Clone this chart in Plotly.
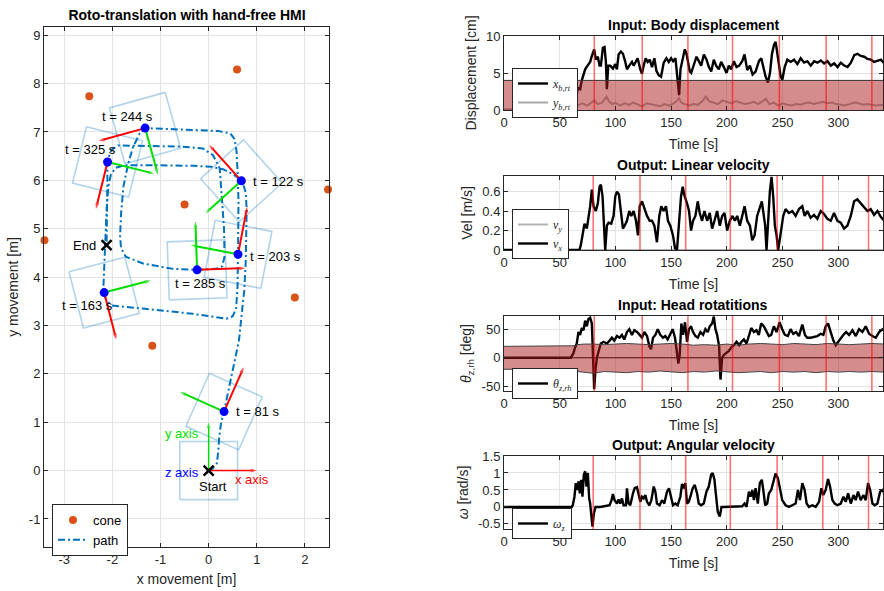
import math
import plotly.graph_objects as go

FONT = "Liberation Sans, Arial, Helvetica, sans-serif"
SERIF = "Liberation Serif, Times New Roman, serif"
TXT = "#262626"
W, H = 884, 591

# ================= DATA: left panel (trajectory) =================
cone_x = [-2.48, 0.59, -0.50, 2.48, -3.41, 1.79, -1.17]
cone_y = [7.74, 8.29, 5.50, 5.81, 4.76, 3.58, 2.58]

path_x = [0.0, 0.08, 0.17, 0.20, 0.22, 0.26, 0.32, 0.43, 0.54, 0.63, 0.68, 0.74, 0.77, 0.78, 0.79, 0.77, 0.69,
          0.50, 0.30, 0.05, -0.30, -1.00, -1.75, -1.93, -2.03, -2.08, -2.12, -2.14, -2.16, -2.19,
          -2.12, -2.00, -1.36, -0.33, 0.37, 0.50, 0.57, 0.60, 0.61,
          0.62, 0.62, 0.60, 0.58, 0.54, 0.45, 0.20, -0.50, -1.00, -1.32,
          -1.43, -1.57, -1.67, -1.77, -1.82, -1.84, -1.82, -1.72, -1.36, -0.74, -0.24,
          0.15, 0.28, 0.33, 0.32, 0.28, 0.26, 0.23, 0.09, -0.12, -0.60, -1.40, -1.88, -2.01, -2.07, -2.10,
          -2.11, -2.12, -2.12]
path_y = [0.0, 0.04, 0.15, 0.40, 0.70, 1.00, 1.22, 1.72, 2.21, 2.69, 3.17, 3.73, 4.30, 4.90, 5.40, 5.75, 6.00,
          6.13, 6.23, 6.28, 6.30, 6.31, 6.31, 6.26, 6.12, 5.90, 5.40, 4.90, 4.30, 3.69,
          3.50, 3.41, 3.35, 3.24, 3.14, 3.19, 3.35, 3.80, 4.47,
          5.00, 5.60, 6.20, 6.60, 6.85, 6.97, 7.02, 7.05, 7.06, 7.08,
          6.97, 6.69, 6.35, 5.87, 5.30, 4.85, 4.60, 4.42, 4.28, 4.17, 4.15,
          4.17, 4.22, 4.42, 5.00, 5.50, 5.90, 6.25, 6.52, 6.66, 6.70, 6.71, 6.72, 6.64, 6.50, 6.38,
          5.90, 5.30, 4.66]

pose_t = [81, 122, 163, 203, 244, 285, 325]
pose_x = [0.32, 0.68, -2.17, 0.61, -1.32, -0.24, -2.10]
pose_y = [1.22, 5.99, 3.68, 4.47, 7.08, 4.15, 6.38]
pose_heading_deg = [66, 132, 284.5, 79, 195.5, 2, 256]

start_xy = (0.0, 0.0)
end_xy = (-2.12, 4.66)

# ================= DATA: right panels (time series) =================
t_end = 340
disp_threshold = 4.0
input_marks = [81, 124, 165, 205, 247, 289, 330]
output_marks = [80, 122, 163, 203, 245, 286, 327]

disp_t = [0, 60, 62.4, 64.7, 66.2, 68.3, 69.8, 72.8, 74.9, 77.3, 78.8, 80.9, 82.4, 84.2, 85.7, 86.9, 88.7,
          90.2, 91.4, 92.3, 93.5, 95.3, 97.7, 99.8, 101.3, 102.8, 104.9, 106.7, 108.8, 110.3, 112.4, 114.8,
          116.3, 118.4, 119.9, 122.3, 123.8, 125.3, 127.1, 128.9, 130.7, 132.8, 134.9, 136.7, 138.8, 140.9,
          143.3, 145.7, 147.8, 149.9, 151.7, 153.8, 155.9, 157.1, 158.3, 160.4, 162.2, 163.7, 165.2, 166.7,
          167.9, 170.3, 172.7, 174.8, 176.9, 179.3, 181.7, 183.8, 185.9, 188.2, 190.3, 192.7, 194.8, 197.2,
          199.6, 201.7, 203.8, 206.2, 208.6, 211.0, 213.7, 215.8, 218.2, 220.6, 223.0, 225.7, 228.7, 230.8,
          232.6, 234.7, 236.8, 238.6, 240.4, 242.2, 243.7, 245.2, 246.7, 248.2, 249.7, 251.8, 254.2, 257.2,
          260.2, 263.2, 266.2, 269.2, 272.2, 275.2, 278.2, 281.2, 284.2, 287.2, 290.2, 293.2, 296.2, 299.2,
          302.2, 305.2, 308.2, 311.2, 314.2, 317.1, 320.1, 323.1, 326.1, 329.1, 332.1, 335.1, 338.1, 341.1]
disp_xb = [0, 0, 0.4, 1.5, 3.0, 2.8, 4.0, 5.5, 6.0, 6.5, 7.3, 8.2, 6.8, 7.2, 6.0, 6.0, 8.4,
           8.5, 6.5, 2.8, 6.0, 6.0, 5.6, 6.2, 5.5, 7.5, 7.9, 7.6, 6.5, 5.5, 6.0, 6.5,
           6.0, 6.6, 7.0, 5.5, 4.9, 6.0, 7.0, 6.5, 6.8, 5.8, 7.0, 5.3, 4.7, 4.5,
           6.4, 7.0, 6.5, 7.0, 6.6, 7.0, 4.0, 2.0, 5.5, 7.0, 8.2, 7.6, 6.5, 5.2,
           5.0, 6.0, 7.2, 6.6, 6.0, 7.5, 6.8, 5.8, 5.2, 6.8, 6.0, 5.5, 6.5, 5.8,
           5.0, 6.0, 5.5, 6.6, 5.8, 6.0, 6.6, 7.5, 5.4, 6.0, 4.8, 5.2, 6.6, 7.0,
           5.8, 4.5, 3.7, 5.0, 7.6, 8.8, 9.2, 7.5, 6.0, 4.5, 4.1, 5.8, 6.8, 6.5,
           6.8, 6.2, 7.0, 6.4, 6.6, 6.0, 6.6, 6.4, 6.7, 6.3, 6.6, 6.0, 6.3, 5.8,
           6.4, 6.0, 5.8, 6.4, 7.4, 7.6, 7.3, 7.2, 6.9, 6.8, 6.5, 6.6, 6.8, 6.3]

disp_y_t = [0, 60, 62, 64, 66, 70, 75, 78, 81, 84, 88, 90, 92, 94, 97, 100, 104, 108, 112, 116, 120,
            124, 128, 132, 136, 140, 144, 148, 152, 155, 157, 159, 162, 166, 170, 174, 178, 181, 184,
            188, 192, 196, 200, 204, 208, 212, 216, 220, 224, 228, 232, 235, 238, 242, 246, 250, 254,
            258, 262, 266, 270, 274, 278, 282, 286, 290, 294, 298, 302, 306, 310, 314, 318, 322, 326,
            330, 334, 338, 341]
disp_yb = [0, 0, 0.3, 1.0, 0.6, 0.9, 0.6, 1.0, 1.3, 0.8, 1.0, 1.4, 1.8, 1.2, 0.8, 1.0, 0.6, 0.9, 0.7, 1.0, 0.8,
           0.5, 0.9, 0.8, 0.6, 0.5, 0.8, 0.6, 0.9, 1.2, 1.6, 1.0, 0.8, 0.6, 0.8, 0.7, 1.2, 1.8, 1.2,
           1.0, 0.8, 1.3, 1.1, 0.9, 1.2, 1.0, 0.8, 0.9, 1.1, 0.8, 1.2, 1.5, 0.8, 1.0, 0.6, 0.9, 0.7,
           0.6, 0.8, 0.7, 0.9, 1.0, 0.8, 1.0, 1.1, 0.9, 1.0, 0.8, 0.7, 0.6, 0.8, 1.0, 0.9, 0.7, 0.8,
           0.7, 0.6, 0.7, 0.6]

vel_t = [0, 67.7, 68.9, 70.7, 72.2, 74.3, 75.8, 77.3, 78.8, 80.3, 82.4, 84.2, 85.7, 86.9, 88.4, 89.6, 90.8,
         92.3, 93.8, 96.2, 98.3, 99.8, 101.3, 103.1, 104.9, 106.7, 108.2, 110.3, 112.4, 114.2, 116.3, 118.4,
         120.2, 121.7, 123.8, 125.9, 128.3, 130.7, 132.8, 134.9, 137.2, 139.3, 141.1, 143.2, 145.3, 147.1,
         149.2, 151.6, 153.4, 155.2, 157.0, 158.8, 160.3, 162.1, 164.2, 166.0, 167.8, 169.6, 171.7, 173.8,
         175.6, 177.7, 179.8, 182.2, 184.6, 186.7, 188.8, 191.2, 193.6, 195.7, 197.8, 200.2, 202.6, 205.0,
         207.1, 209.2, 211.6, 213.7, 215.8, 218.2, 220.6, 222.7, 224.8, 227.1, 229.5, 231.3, 232.5, 234.3,
         235.5, 236.7, 238.5, 240.0, 241.5, 243.0, 244.5, 246.0, 248.1, 250.5, 252.6, 255.6, 258.6, 261.6,
         264.6, 267.6, 269.7, 272.1, 275.1, 278.1, 281.1, 284.1, 287.1, 290.1, 293.1, 296.1, 299.1, 302.1,
         305.1, 308.1, 311.1, 314.1, 317.0, 320.0, 323.0, 326.0, 329.0, 332.0, 335.0, 338.0, 341.0]
vel_x = [0, 0, 0.05, 0.15, 0.27, 0.22, 0.32, 0.45, 0.62, 0.45, 0.40, 0.48, 0.65, 0.67, 0.55, 0.20, 0.0,
         0.25, 0.28, 0.27, 0.35, 0.55, 0.60, 0.57, 0.40, 0.22, 0.25, 0.30, 0.40, 0.35, 0.40, 0.30,
         0.15, 0.45, 0.50, 0.42, 0.35, 0.30, 0.30, 0.25, 0.08, 0.35, 0.45, 0.40, 0.45, 0.30,
         0.25, 0.15, 0.02, 0.0, 0.30, 0.55, 0.65, 0.55, 0.48, 0.40, 0.20, 0.30, 0.35, 0.50,
         0.38, 0.30, 0.40, 0.30, 0.38, 0.22, 0.30, 0.40, 0.25, 0.35, 0.38, 0.20, 0.30, 0.35,
         0.30, 0.35, 0.25, 0.35, 0.45, 0.30, 0.25, 0.10, 0.15, 0.35, 0.45, 0.50, 0.40, 0.25,
         0.0, 0.30, 0.60, 0.75, 0.55, 0.25, 0.15, 0.0, 0.15, 0.35, 0.42, 0.38, 0.40, 0.35,
         0.42, 0.45, 0.35, 0.40, 0.33, 0.36, 0.32, 0.40, 0.37, 0.32, 0.30, 0.38, 0.30, 0.28,
         0.22, 0.25, 0.35, 0.50, 0.52, 0.48, 0.45, 0.40, 0.42, 0.36, 0.40, 0.34, 0.30]
vel_y_t = [0, 100, 200, 300, 341]
vel_y = [0, 0, 0, 0, 0]

head_t = [0, 60, 60.8, 62.3, 63.8, 65.3, 66.8, 68.3, 69.8, 71.3, 72.8, 74.3, 75.8, 77.3, 78.8, 79.7, 80.9, 82.1,
          83.3, 85.4, 86.9, 89.3, 92.3, 94.7, 96.8, 98.9, 101.3, 103.7, 105.8, 107.9, 110.3, 112.4, 114.8,
          116.9, 119.3, 121.7, 123.8, 125.9, 128.3, 130.4, 131.9, 133.7, 135.8, 137.9, 140.2, 142.6, 144.7,
          146.8, 149.2, 151.3, 153.4, 155.2, 156.4, 157.6, 159.1, 160.6, 162.4, 164.2, 166.0, 167.8, 169.6,
          171.7, 173.8, 176.2, 178.6, 180.7, 182.8, 184.6, 186.7, 188.2, 189.7, 191.2, 193.0, 194.2, 195.7,
          197.2, 199.6, 201.7, 203.8, 206.2, 208.6, 211.0, 213.1, 215.2, 217.6, 219.7, 221.8, 224.2, 226.5,
          228.6, 230.7, 233.1, 235.5, 237.6, 239.7, 242.1, 244.5, 247.2, 249.6, 252.0, 254.7, 257.1, 259.5,
          262.0, 264.6, 267.6, 270.0, 272.1, 275.1, 278.1, 281.1, 284.1, 286.5, 288.6, 290.7, 293.1, 295.5,
          297.6, 299.7, 302.1, 304.5, 306.9, 309.6, 312.6, 315.6, 318.5, 321.5, 324.5, 327.5, 330.5, 333.5,
          336.5, 339.5, 341.0]
head_theta = [0, 0, 3, 8, 18, 25, 45, 40, 52, 48, 65, 55, 68, 70, 60, 10, -55, -20,
              0, 15, 25, 28, 25, 30, 35, 30, 38, 35, 40, 32, 45, 50, 40,
              48, 45, 40, 35, 45, 38, 20, 15, 35, 40, 50, 40, 35, 38,
              32, 42, 50, 35, 10, -10, 5, 60, 40, 62, 28, 50, 55, 45,
              38, 35, 45, 40, 50, 45, 55, 60, 72, 50, 40, 20, -38, 0,
              5, 8, 12, 18, 22, 28, 22, 28, 32, 25, 40, 52, 45, 48,
              40, 60, 55, 45, 38, 40, 55, 45, 62, 50, 40, 38, 50, 42,
              45, 38, 58, 40, 35, 35, 36, 38, 42, 40, 55, 60, 45, 30,
              22, 28, 35, 40, 45, 40, 48, 38, 50, 45, 55, 42, 38, 35,
              45, 50, 48]

band_t = [0, 60, 62, 66, 72, 80, 90, 100, 110, 120, 130, 140, 150, 160, 170, 180, 190, 200, 210, 220,
          230, 240, 250, 260, 270, 280, 290, 300, 310, 320, 330, 341]
band_hi = [20, 20, 21, 23, 24, 24, 23, 24, 25, 24, 23, 24, 25, 24, 22, 23, 22, 24, 22, 24,
           25, 24, 23, 25, 24, 23, 25, 24, 23, 24, 25, 24]
band_lo = [-20, -20, -21, -24, -25, -27, -24, -25, -26, -24, -25, -23, -24, -26, -24, -25, -23, -24, -26, -25,
           -24, -26, -24, -25, -24, -26, -24, -25, -24, -25, -24, -25]

ang_t = [0, 60.8, 61.7, 63.2, 64.4, 65.6, 66.8, 68.0, 69.2, 70.4, 71.6, 72.8, 74.0, 75.2, 76.4, 77.3, 78.5,
         79.4, 80.6, 82.1, 86.3, 90.8, 94.7, 96.5, 97.7, 99.2, 101.3, 102.8, 104.3, 105.8, 107.3, 109.4,
         110.3, 111.8, 113.3, 115.7, 117.2, 119.3, 120.8, 122.3, 123.8, 125.3, 126.8, 128.3, 130.4, 132.2,
         134.3, 135.8, 137.2, 139.6, 141.7, 143.8, 146.2, 148.0, 149.8, 151.6, 153.7, 155.8, 158.2, 159.7,
         161.2, 162.7, 164.2, 165.7, 167.2, 169.3, 171.1, 173.2, 174.7, 176.8, 179.2, 181.6, 183.7, 185.8,
         187.2, 188.8, 190.3, 191.8, 193.6, 195.1, 197.2, 203.2, 209.2, 213.7, 215.8, 217.6, 219.7, 221.2,
         222.7, 224.2, 225.7, 227.7, 229.5, 231.3, 232.8, 234.3, 236.1, 237.6, 239.7, 241.5, 243.6, 245.7,
         247.5, 249.6, 252.6, 255.6, 258.6, 261.6, 263.7, 265.5, 267.6, 269.7, 271.5, 273.6, 276.6, 279.6,
         282.6, 284.7, 286.5, 288.6, 290.7, 292.5, 294.6, 296.7, 299.1, 302.1, 304.5, 306.6, 308.7, 311.1,
         313.5, 315.5, 317.6, 320.0, 322.4, 324.5, 326.6, 328.5, 330.5, 332.6, 335.0, 337.4, 339.5, 341.1]
ang_w = [0, 0, 0.05, 0.3, 0.7, 0.5, 0.75, 0.4, 0.8, 0.3, 0.95, 1.05, 0.6, 1.0, 0.25, 0.1, -0.3,
         -0.58, -0.2, 0.0, 0.0, 0.02, 0.05, 0.2, 0.38, 0.2, 0.1, 0.22, 0.1, 0.25, 0.05, 0.05,
         0.55, 0.1, 0.05, 0.4, 0.55, 0.58, 0.35, 0.15, 0.3, 0.25, 0.35, 0.15, 0.05, 0.2,
         0.6, 0.45, 0.1, 0.05, 0.2, 0.1, 0.45, 0.55, 0.3, 0.05, 0.1, 0.05, 0.3, 0.68,
         0.55, 0.7, 0.1, 0.15, 0.3, 0.55, 0.65, 0.4, 0.1, 0.05, 0.1, 0.45, 0.6, 0.95,
         1.0, 0.8, 0.3, -0.15, -0.28, 0.0, 0.0, 0.0, 0.0, 0.02, 0.1, 0.0, 0.45, 0.3,
         0.5, 0.2, 0.55, 0.1, 0.7, 0.8, 0.45, 0.05, 0.1, 0.4, 0.5, 0.75, 0.98, 0.85,
         0.55, 0.2, 0.05, 0.0, 0.05, 0.1, 0.5, 0.2, 0.7, 0.5, 0.1, 0.0, 0.05, 0.0,
         0.15, 0.55, 0.35, 0.5, 0.82, 0.6, 0.2, 0.1, 0.05, 0.1, 0.3, 0.15, 0.4, 0.1,
         0.35, 0.2, 0.45, 0.2, 0.35, 0.2, 0.7, 0.5, 0.1, 0.05, 0.1, 0.45, 0.5, 0.4]

# ================= FIGURE =================
fig = go.Figure()

SQ_COL = "rgba(0,114,189,0.30)"
RED = "#ff0000"
GREEN = "#00dd00"


def square(cx, cy, ang_deg, side=1.2):
    a = math.radians(ang_deg)
    c, s = math.cos(a), math.sin(a)
    h = side / 2
    pts = [(-h, -h), (h, -h), (h, h), (-h, h), (-h, -h)]
    xs = [cx + px * c - py * s for px, py in pts]
    ys = [cy + px * s + py * c for px, py in pts]
    return xs, ys


def arrow(x0, y0, x1, y1, col, width, head):
    fig.add_trace(go.Scatter(
        x=[x0, x1], y=[y0, y1], mode="lines+markers", showlegend=False, hoverinfo="skip",
        line=dict(color=col, width=width),
        marker=dict(symbol="arrow", size=[0, head], color=col, angleref="previous",
                    line=dict(width=0)),
        xaxis="x", yaxis="y"))


all_px = [start_xy[0]] + pose_x
all_py = [start_xy[1]] + pose_y
all_ang = [0] + pose_heading_deg
for cx, cy, ang in zip(all_px, all_py, all_ang):
    xs, ys = square(cx, cy, ang)
    fig.add_trace(go.Scatter(x=xs, y=ys, mode="lines", line=dict(color=SQ_COL, width=1.6),
                             showlegend=False, hoverinfo="skip", xaxis="x", yaxis="y"))

fig.add_trace(go.Scatter(x=cone_x, y=cone_y, mode="markers", name="cone",
                         marker=dict(color="#D95319", size=8), cliponaxis=False,
                         xaxis="x", yaxis="y", legend="legend"))
fig.add_trace(go.Scatter(x=path_x, y=path_y, mode="lines", name="path",
                         line=dict(color="#0072BD", width=2, dash="7px,3px,2px,3px"),
                         xaxis="x", yaxis="y", legend="legend"))

ARROW_LEN = 1.0
for cx, cy, ang in zip(pose_x, pose_y, pose_heading_deg):
    a = math.radians(ang)
    for col, aa in ((RED, a), (GREEN, a + math.pi / 2)):
        arrow(cx, cy, cx + ARROW_LEN * math.cos(aa), cy + ARROW_LEN * math.sin(aa), col, 2, 6)
arrow(start_xy[0], start_xy[1], start_xy[0] + 1, start_xy[1], RED, 1.5, 6)
arrow(start_xy[0], start_xy[1], start_xy[0], start_xy[1] + 1, GREEN, 1.5, 6)

fig.add_trace(go.Scatter(x=pose_x, y=pose_y, mode="markers", showlegend=False,
                         marker=dict(color="#0000ff", size=9), xaxis="x", yaxis="y"))
fig.add_trace(go.Scatter(x=[start_xy[0], end_xy[0]], y=[start_xy[1], end_xy[1]], mode="markers",
                         showlegend=False, marker=dict(symbol="x-thin", size=10,
                                                       line=dict(color="black", width=2.5)),
                         xaxis="x", yaxis="y"))

anns = []
lab_off = {81: (0.20, 0.0, "left"), 122: (0.20, -0.02, "left"), 163: (-0.35, -0.26, "center"),
           203: (0.20, -0.04, "left"), 244: (-0.36, 0.23, "center"), 285: (0.07, -0.28, "center"),
           325: (-0.35, 0.25, "center")}
for t, cx, cy in zip(pose_t, pose_x, pose_y):
    dx, dy, al = lab_off[t]
    anns.append(dict(x=cx + dx, y=cy + dy, xref="x", yref="y", text=f"t = {t} s", showarrow=False,
                     xanchor=al, yanchor="middle", font=dict(family=FONT, size=13, color="black")))
anns.append(dict(x=end_xy[0] - 0.17, y=end_xy[1], xref="x", yref="y", text="End", showarrow=False,
                 xanchor="right", yanchor="middle", font=dict(family=FONT, size=13, color="black")))
anns.append(dict(x=start_xy[0] + 0.1, y=start_xy[1] - 0.33, xref="x", yref="y", text="Start",
                 showarrow=False, xanchor="center", yanchor="middle",
                 font=dict(family=FONT, size=13, color="black")))
anns.append(dict(x=start_xy[0] + 0.5, y=start_xy[1] - 0.19, xref="x", yref="y", text="x axis",
                 showarrow=False, xanchor="left", yanchor="middle", font=dict(family=FONT, size=13, color=RED)))
anns.append(dict(x=start_xy[0] - 0.15, y=start_xy[1] + 0.76, xref="x", yref="y", text="y axis",
                 showarrow=False, xanchor="right", yanchor="middle", font=dict(family=FONT, size=13, color="#00e000")))
anns.append(dict(x=start_xy[0] - 0.15, y=start_xy[1] - 0.03, xref="x", yref="y", text="z axis",
                 showarrow=False, xanchor="right", yanchor="middle", font=dict(family=FONT, size=13, color="#0000ff")))

FILL = "rgba(170,25,25,0.5)"
MARK = "rgba(255,0,0,0.55)"
SIG_W = 2.4

fig.add_trace(go.Scatter(x=disp_t, y=disp_xb, mode="lines", name="<i>x</i><sub><i>b,rt</i></sub>",
                         line=dict(color="black", width=SIG_W), xaxis="x2", yaxis="y2", legend="legend2"))
fig.add_trace(go.Scatter(x=disp_y_t, y=disp_yb, mode="lines", name="<i>y</i><sub><i>b,rt</i></sub>",
                         line=dict(color="rgba(165,165,165,0.95)", width=2), xaxis="x2", yaxis="y2",
                         legend="legend2"))
fig.add_trace(go.Scatter(x=[0, t_end, t_end, 0, 0], y=[0, 0, disp_threshold, disp_threshold, 0],
                         mode="lines", fill="toself", fillcolor=FILL, line=dict(width=0),
                         showlegend=False, hoverinfo="skip", xaxis="x2", yaxis="y2"))
fig.add_trace(go.Scatter(x=[0, t_end], y=[disp_threshold, disp_threshold], mode="lines",
                         line=dict(color="#333333", width=1), showlegend=False, xaxis="x2", yaxis="y2"))

fig.add_trace(go.Scatter(x=vel_y_t, y=vel_y, mode="lines", name="<i>v</i><sub><i>y</i></sub>",
                         line=dict(color="#b4b4b4", width=2), xaxis="x3", yaxis="y3", legend="legend3"))
fig.add_trace(go.Scatter(x=vel_t, y=vel_x, mode="lines", name="<i>v</i><sub><i>x</i></sub>",
                         line=dict(color="black", width=SIG_W), xaxis="x3", yaxis="y3", legend="legend3"))

fig.add_trace(go.Scatter(x=[0, t_end], y=[0, 0], mode="lines", line=dict(color="black", width=1),
                         showlegend=False, xaxis="x4", yaxis="y4"))
fig.add_trace(go.Scatter(x=head_t, y=head_theta, mode="lines", name="<i>θ</i><sub><i>z,rh</i></sub>",
                         line=dict(color="black", width=SIG_W), xaxis="x4", yaxis="y4", legend="legend4"))
fig.add_trace(go.Scatter(x=band_t, y=band_lo, mode="lines", line=dict(color="#444444", width=1),
                         showlegend=False, hoverinfo="skip", xaxis="x4", yaxis="y4"))
fig.add_trace(go.Scatter(x=band_t, y=band_hi, mode="lines", line=dict(color="#444444", width=1),
                         fill="tonexty", fillcolor=FILL, showlegend=False, hoverinfo="skip",
                         xaxis="x4", yaxis="y4"))

fig.add_trace(go.Scatter(x=ang_t, y=ang_w, mode="lines", name="<i>ω</i><sub><i>z</i></sub>",
                         line=dict(color="black", width=SIG_W), xaxis="x5", yaxis="y5", legend="legend5"))

shapes = []
for ax_id, marks in (("2", input_marks), ("3", output_marks), ("4", input_marks), ("5", output_marks)):
    for t in marks:
        shapes.append(dict(type="line", xref="x" + ax_id, yref="y" + ax_id + " domain",
                           x0=t, x1=t, y0=0, y1=1, line=dict(color=MARK, width=1.6), layer="above"))


def ax_style(title, standoff, **kw):
    d = dict(showline=True, linecolor=TXT, linewidth=1, mirror="ticks", ticks="inside", ticklen=4,
             tickcolor=TXT, showgrid=True, gridcolor="#e3e3e3", gridwidth=1, zeroline=False,
             automargin=False, tickfont=dict(family=FONT, size=13, color=TXT), fixedrange=True,
             title=dict(text=title, standoff=standoff, font=dict(family=FONT, size=14, color=TXT)))
    d.update(kw)
    return d


def fmt(v):
    return "%g" % v


RX = [504 / W, 883 / W]
panels_y = [(36, 110), (176, 250), (316, 391), (456, 529)]
t_ticks = [0, 50, 100, 150, 200, 250, 300]
ylabels = ["Displacement [cm]", "Vel [m/s]", "<i>θ</i><sub>z,rh</sub> [deg]", "<i>ω</i> [rad/s]"]

layout = dict(
    width=W, height=H, margin=dict(l=0, r=0, t=0, b=0, pad=0, autoexpand=False),
    paper_bgcolor="white", plot_bgcolor="white", showlegend=True,
    title=dict(text="<b>Roto-translation with hand-free HMI</b>", x=187 / W, y=1 - 15 / H,
               xref="paper", yref="container", xanchor="center", yanchor="middle",
               font=dict(family=FONT, size=14, color="black")),
    xaxis=ax_style("x movement [m]", 8, domain=[44 / W, 329 / W], range=[-3.42, 2.5],
                   tickvals=[-3, -2, -1, 0, 1, 2], ticktext=[fmt(v) for v in [-3, -2, -1, 0, 1, 2]],
                   anchor="y"),
    yaxis=ax_style("y movement [m]", 6, domain=[1 - 547 / H, 1 - 27 / H], range=[-1.58, 9.17],
                   tickvals=list(range(-1, 10)), ticktext=[fmt(v) for v in range(-1, 10)], anchor="x"),
)
yranges = [[0, 10], [0, 0.76], [-58, 73], [-0.65, 1.5]]
yticks = [[0, 5, 10], [0, 0.2, 0.4, 0.6], [-50, 0, 50], [-0.5, 0, 0.5, 1, 1.5]]
for i, ((top, bot), yr, yt, yl) in enumerate(zip(panels_y, yranges, yticks, ylabels)):
    n = str(i + 2)
    layout["xaxis" + n] = ax_style("Time [s]", 10, domain=RX, range=[0, t_end], tickvals=t_ticks,
                                   ticktext=[fmt(v) for v in t_ticks], anchor="y" + n)
    layout["yaxis" + n] = ax_style(yl, 6, domain=[1 - bot / H, 1 - top / H], range=yr, tickvals=yt,
                                   ticktext=[fmt(v) for v in yt], anchor="x" + n)

leg_common = dict(bgcolor="white", bordercolor=TXT, borderwidth=1, xanchor="left", yanchor="top",
                  itemwidth=30, tracegroupgap=0, traceorder="normal")
layout["legend"] = dict(leg_common, x=52 / W, y=1 - 504 / H, font=dict(family=FONT, size=13, color="black"))
layout["legend2"] = dict(leg_common, x=512 / W, y=1 - 68 / H, font=dict(family=SERIF, size=12, color=TXT))
layout["legend3"] = dict(leg_common, x=512 / W, y=1 - 209 / H, font=dict(family=SERIF, size=12, color=TXT))
layout["legend4"] = dict(leg_common, x=512 / W, y=1 - 368 / H, font=dict(family=SERIF, size=12, color=TXT))
layout["legend5"] = dict(leg_common, x=512 / W, y=1 - 508 / H, font=dict(family=SERIF, size=12, color=TXT))


def paper_text(x, y, text, size=14, bold=False, color=TXT):
    if bold:
        text = "<b>" + text + "</b>"
    return dict(x=x / W, y=1 - y / H, xref="paper", yref="paper", text=text, showarrow=False,
                xanchor="center", yanchor="middle", font=dict(family=FONT, size=size, color=color))


titles = ["Input: Body displacement", "Output: Linear velocity", "Input: Head rotatitions",
          "Output: Angular velocity"]
for (top, bot), ttl in zip(panels_y, titles):
    anns.append(paper_text(693, top - 11, ttl, 14, True, color="black"))

layout["annotations"] = anns
layout["shapes"] = shapes
fig.update_layout(**layout)
fig.write_html("out.html", config={"displayModeBar": False},
               post_script="document.body.style.margin='0';document.body.style.padding='0';")
